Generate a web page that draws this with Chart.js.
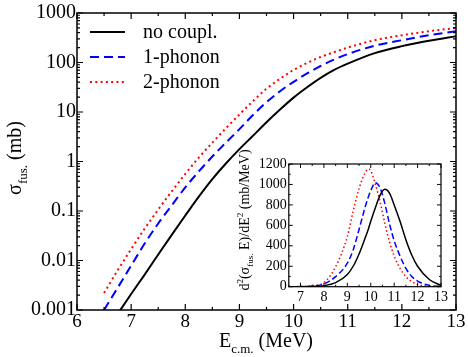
<!DOCTYPE html>
<html>
<head>
<meta charset="utf-8">
<script src="https://cdn.jsdelivr.net/npm/chart.js@4"></script>
<style>
    html, body { margin: 0; padding: 0; background: #fff; }
    #wrap { position: relative; width: 468px; height: 357px; }
    #principal { position: absolute; left: 0; top: 0; }
    #detalhe { position: absolute; left: 225px; top: 145px; }
</style>
</head>
<body>
<div id="wrap">
    <canvas id="principal" width="468" height="357"></canvas>
    <canvas id="detalhe" width="225" height="165"></canvas>
</div>
<script>
// Dados do gráfico principal (sigma de fusão em mb)
const energia = [6.5, 6.75, 7, 7.25, 7.5, 7.75, 8, 8.25, 8.5, 8.75, 9, 9.25, 9.5, 9.75, 10, 10.25, 10.5, 10.75, 11, 11.5, 12, 12.5, 13];
const semAcopl = [null, 0.00083, 0.0021, 0.0052, 0.0132, 0.033, 0.081, 0.195, 0.44, 0.91, 1.78, 3.3, 6.2, 11.2, 19.5, 31.6, 49, 71, 95, 155, 214, 275, 340];
const umFonon = [0.001, 0.0028, 0.0079, 0.022, 0.056, 0.13, 0.3, 0.63, 1.26, 2.4, 4.5, 8.7, 15.8, 26.3, 40.7, 60, 85, 115, 148, 219, 282, 355, 427];
const doisFonons = [0.0022, 0.0063, 0.017, 0.044, 0.107, 0.25, 0.56, 1.2, 2.4, 4.7, 8.9, 16.6, 29.5, 46.8, 70.8, 98, 129, 162, 200, 282, 355, 427, 500];

const xTicks = [6, 7, 8, 9, 10, 11, 12, 13];
const yTicks = [0.001, 0.01, 0.1, 1, 10, 100, 1000];
const yRotulos = ["0.001", "0.01", "0.1", "1", "10", "100", "1000"];

// Dados do detalhe (barreira)
const energiaDet = [6.5, 7, 7.5, 8, 8.5, 9, 9.25, 9.5, 9.75, 9.9, 10, 10.2, 10.4, 10.6, 10.8, 11, 11.25, 11.5, 11.75, 12, 12.5, 13];
const barSem = [0, 0.5, 2, 10, 40, 120, 200, 320, 470, 565, 640, 775, 895, 952, 915, 800, 640, 460, 310, 200, 70, 12];
const barUm = [0, 1, 5, 28, 98, 230, 360, 560, 770, 880, 940, 1017, 965, 815, 615, 450, 300, 180, 100, 55, 13, 2];
const barDois = [0, 2, 10, 40, 196, 490, 740, 960, 1110, 1150, 1135, 1000, 830, 620, 440, 300, 180, 98, 50, 22, 5, 1];

const xTicksDet = [7, 8, 9, 10, 11, 12, 13];
const yTicksDet = [0, 200, 400, 600, 800, 1000, 1200];

const serif = "'Liberation Serif', 'Times New Roman', serif";

function pontos(xs, ys) {
    return xs.map((x, i) => ({ x: x, y: ys[i] })).filter(p => p.y !== null);
}

function fonte(tam) {
    return tam + "px " + serif;
}

// texto com subscrito / sobrescrito, centrado em (x, y) na linha de base
function textoRico(ctx, partes, x, y, tam, girar) {
    ctx.save();
    ctx.translate(x, y);
    if (girar) ctx.rotate(-Math.PI / 2);
    ctx.fillStyle = "#000";
    ctx.textBaseline = "alphabetic";
    ctx.textAlign = "left";
    const medir = p => { ctx.font = fonte(p.s ? tam * 0.65 : tam); return ctx.measureText(p.t).width; };
    const total = partes.reduce((s, p) => s + medir(p), 0);
    let cx = -total / 2;
    partes.forEach(p => {
        const w = medir(p);
        const dy = p.s === "sub" ? tam * 0.3 : (p.s === "sup" ? -tam * 0.42 : 0);
        ctx.fillText(p.t, cx, dy);
        cx += w;
    });
    ctx.restore();
}

// moldura e marcas para dentro nos quatro lados
function moldura(chart, o) {
    const ctx = chart.ctx;
    const a = chart.chartArea;
    const x = chart.scales.x, y = chart.scales.y;
    ctx.save();
    ctx.strokeStyle = "#000";
    ctx.lineWidth = o.lw;
    ctx.strokeRect(a.left, a.top, a.right - a.left, a.bottom - a.top);
    ctx.lineWidth = o.lw * 0.8;
    ctx.beginPath();
    const marcaX = (v, len) => {
        const p = x.getPixelForValue(v);
        ctx.moveTo(p, a.bottom); ctx.lineTo(p, a.bottom - len);
        ctx.moveTo(p, a.top); ctx.lineTo(p, a.top + len);
    };
    const marcaY = (v, len) => {
        const p = y.getPixelForValue(v);
        ctx.moveTo(a.left, p); ctx.lineTo(a.left + len, p);
        ctx.moveTo(a.right, p); ctx.lineTo(a.right - len, p);
    };
    o.xMaj.forEach(v => marcaX(v, o.maj));
    o.xMin.forEach(v => marcaX(v, o.min));
    o.yMaj.forEach(v => marcaY(v, o.maj));
    o.yMin.forEach(v => marcaY(v, o.min));
    ctx.stroke();
    ctx.restore();
}

const menoresLog = [];
for (let d = -3; d < 3; d++) {
    for (let k = 2; k <= 9; k++) menoresLog.push(k * Math.pow(10, d));
}

const plugPrincipal = {
    id: "plugPrincipal",
    afterDraw(chart) {
        moldura(chart, {
            lw: 1.5, maj: 6, min: 3,
            xMaj: xTicks, xMin: xTicks.slice(0, -1).map(v => v + 0.5),
            yMaj: yTicks, yMin: menoresLog
        });
        const ctx = chart.ctx;
        // títulos dos eixos
        textoRico(ctx, [{ t: "E" }, { t: "c.m.", s: "sub" }, { t: " (MeV)" }], 266, 347, 20, false);
        textoRico(ctx, [{ t: "σ" }, { t: "fus.", s: "sub" }, { t: " (mb)" }], 21, 158, 20, true);

        // legenda
        const itens = chart.data.datasets;
        ctx.save();
        ctx.font = fonte(20);
        ctx.fillStyle = "#000";
        ctx.textBaseline = "middle";
        itens.forEach((ds, i) => {
            const yy = 32 + i * 25;
            ctx.strokeStyle = ds.borderColor;
            ctx.lineWidth = ds.borderWidth;
            ctx.setLineDash(ds.borderDash || []);
            ctx.beginPath();
            ctx.moveTo(90, yy);
            ctx.lineTo(125, yy);
            ctx.stroke();
            ctx.setLineDash([]);
            ctx.fillText(ds.label, 143, yy + 1);
        });
        ctx.restore();
    }
};

const plugDetalhe = {
    id: "plugDetalhe",
    afterDraw(chart) {
        moldura(chart, {
            lw: 1.2, maj: 4, min: 2,
            xMaj: xTicksDet, xMin: [6.5].concat(xTicksDet.slice(0, -1).map(v => v + 0.5)),
            yMaj: yTicksDet, yMin: yTicksDet.slice(0, -1).map(v => v + 100)
        });
        textoRico(chart.ctx, [
            { t: "d" }, { t: "2", s: "sup" }, { t: "(σ" }, { t: "fus.", s: "sub" },
            { t: " E)/dE" }, { t: "2", s: "sup" }, { t: " (mb/MeV)" }
        ], 24, 75, 14, true);
    }
};

new Chart(document.getElementById("principal"), {
    type: "line",
    data: {
        datasets: [
            { label: "no coupl.", data: pontos(energia, semAcopl), borderColor: "#000000", borderWidth: 2 },
            { label: "1-phonon", data: pontos(energia, umFonon), borderColor: "#0000ff", borderWidth: 2, borderDash: [9, 5] },
            { label: "2-phonon", data: pontos(energia, doisFonons), borderColor: "#ff0000", borderWidth: 2, borderDash: [2, 3.3] }
        ]
    },
    options: {
        responsive: false,
        animation: false,
        elements: { point: { radius: 0 }, line: { cubicInterpolationMode: "monotone" } },
        layout: { padding: { left: 0, right: 12, top: 10, bottom: 0 } },
        plugins: { legend: { display: false }, tooltip: { enabled: false } },
        scales: {
            x: {
                type: "linear", min: 6, max: 13,
                afterBuildTicks: s => { s.ticks = xTicks.map(v => ({ value: v })); },
                afterFit: s => { s.height = 47; },
                grid: { display: false, drawTicks: false },
                border: { display: false },
                ticks: { color: "#000", font: { family: serif, size: 19 }, padding: 1, maxRotation: 0 }
            },
            y: {
                type: "logarithmic", min: 0.001, max: 1000,
                afterBuildTicks: s => { s.ticks = yTicks.map(v => ({ value: v })); },
                afterFit: s => { s.width = 77; },
                grid: { display: false, drawTicks: false },
                border: { display: false },
                ticks: {
                    color: "#000", font: { family: serif, size: 20 }, padding: 1,
                    callback: (v, i) => yRotulos[i]
                }
            }
        }
    },
    plugins: [plugPrincipal]
});

new Chart(document.getElementById("detalhe"), {
    type: "line",
    data: {
        datasets: [
            { data: pontos(energiaDet, barSem), borderColor: "#000000", borderWidth: 1.5 },
            { data: pontos(energiaDet, barUm), borderColor: "#0000ff", borderWidth: 1.5, borderDash: [6, 3] },
            { data: pontos(energiaDet, barDois), borderColor: "#ff0000", borderWidth: 1.5, borderDash: [1.5, 2.5] }
        ]
    },
    options: {
        responsive: false,
        animation: false,
        elements: { point: { radius: 0 }, line: { cubicInterpolationMode: "monotone" } },
        layout: { padding: { left: 0, right: 8.5, top: 19, bottom: 0 } },
        plugins: { legend: { display: false }, tooltip: { enabled: false } },
        scales: {
            x: {
                type: "linear", min: 6.5, max: 13,
                afterBuildTicks: s => { s.ticks = xTicksDet.map(v => ({ value: v })); },
                afterFit: s => { s.height = 23.3; },
                grid: { display: false, drawTicks: false },
                border: { display: false },
                ticks: { color: "#000", font: { family: serif, size: 14 }, padding: 2, maxRotation: 0 }
            },
            y: {
                type: "linear", min: 0, max: 1200,
                afterBuildTicks: s => { s.ticks = yTicksDet.map(v => ({ value: v })); },
                afterFit: s => { s.width = 63.8; },
                grid: { display: false, drawTicks: false },
                border: { display: false },
                ticks: { color: "#000", font: { family: serif, size: 14 }, padding: 2, callback: v => String(v) }
            }
        }
    },
    plugins: [plugDetalhe]
});
</script>
</body>
</html>
